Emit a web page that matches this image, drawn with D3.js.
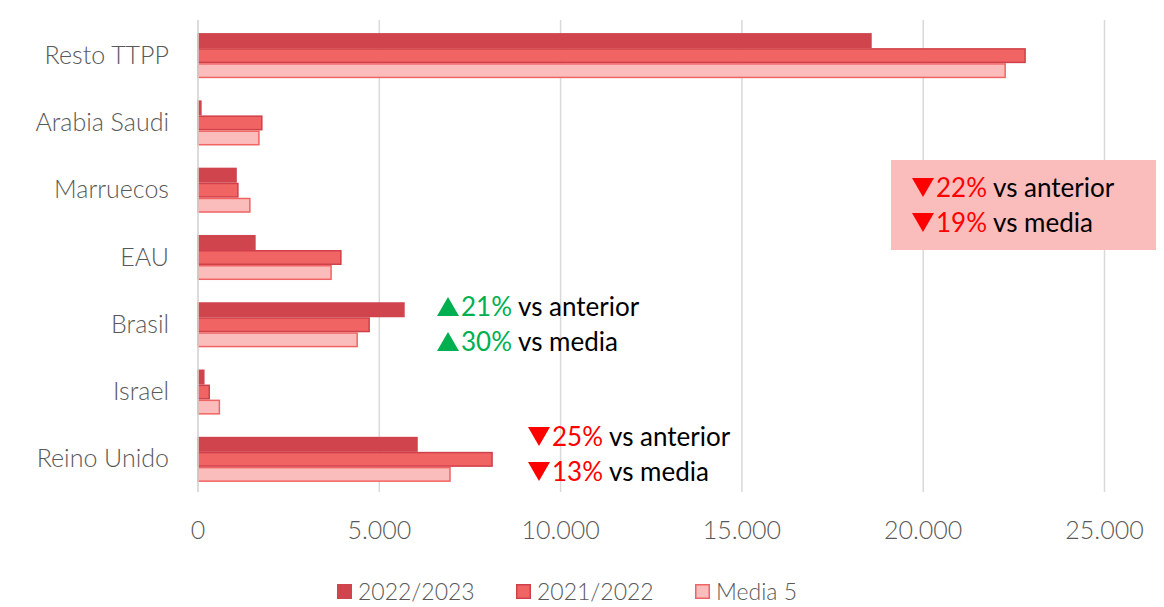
<!doctype html>
<html>
<head>
<meta charset="utf-8">
<title>Barras horizontales</title>
<style type="text/css">
body { margin: 0; background: #fff; }
svg { display: block; }
.lbl { font-family: Lato, "Open Sans", sans-serif; font-weight: 300; fill: #595959; }
.note { font-family: Lato, "Open Sans", sans-serif; font-size: 26px; }
</style>
<script src="https://cdnjs.cloudflare.com/ajax/libs/d3/7.8.5/d3.min.js"></script>
</head>
<body>
<script type="text/javascript">
var width = 1164;
var height = 607;

// datos
var categories = ["Resto TTPP", "Arabia Saudi", "Marruecos", "EAU", "Brasil", "Israel", "Reino Unido"];
var seriesNames = ["2022/2023", "2021/2022", "Media 5"];
var v2022 = [18560, 80, 1050, 1570, 5680, 160, 6040];
var v2021 = [22810, 1760, 1100, 3940, 4720, 310, 8110];
var vMedia = [22260, 1680, 1430, 3670, 4390, 590, 6950];
var ticks = [0, 5000, 10000, 15000, 20000, 25000];

// anotaciones: posicion, flecha, textos
var notes = [
	{ x: 437, y: 307, up: true,  pct: ["21%", "30%"] },
	{ x: 528, y: 437, up: false, pct: ["25%", "13%"] },
	{ x: 912, y: 188, up: false, pct: ["22%", "19%"], box: true }
];
var noteTexts = [" vs anterior", " vs media"];

var fills = ["#d0444e", "#f06464", "#fbbcbc"];
var strokes = ["#d0444e", "#d0404a", "#f06464"];

var values = [v2022, v2021, vMedia];

var svg = d3.select("body").append("svg")
	.attr("width", width)
	.attr("height", height);

var x = d3.scaleLinear().domain([0, 25000]).range([198, 1104.5]);
var y = d3.scaleBand().domain(categories).range([22, 493]).paddingInner(0.33).paddingOuter(0.165);
var ySub = d3.scaleBand().domain(seriesNames).range([0, y.bandwidth()]);

// rejilla vertical
svg.append("g").selectAll("line")
	.data(ticks)
	.enter().append("line")
	.attr("x1", function(d) { return x(d); })
	.attr("x2", function(d) { return x(d); })
	.attr("y1", 20)
	.attr("y2", 492)
	.style("stroke", "#d9d9d9")
	.style("stroke-width", 1.5);

// etiquetas del eje x
svg.append("g").selectAll("text")
	.data(ticks)
	.enter().append("text")
	.classed("lbl", true)
	.attr("x", function(d) { return x(d); })
	.attr("y", 539)
	.attr("text-anchor", "middle")
	.style("font-size", "25px")
	.text(function(d) { return d3.format(",")(d).replace(/,/g, "."); });

// etiquetas de categorias
svg.append("g").selectAll("text")
	.data(categories)
	.enter().append("text")
	.classed("lbl", true)
	.attr("x", 169)
	.attr("y", function(d) { return y(d) + y.bandwidth() / 2 + 8; })
	.attr("text-anchor", "end")
	.style("font-size", "25px")
	.text(function(d) { return d; });

// barras
seriesNames.forEach(function(s, si) {
	svg.append("g").selectAll("rect")
		.data(values[si])
		.enter().append("rect")
		.attr("x", x(0))
		.attr("y", function(d, i) { return y(categories[i]) + ySub(s) + 0.75; })
		.attr("width", function(d) { return x(d) - x(0); })
		.attr("height", ySub.bandwidth() - 1.5)
		.style("fill", fills[si])
		.style("stroke", strokes[si])
		.style("stroke-width", 1.5);
});

// eje en 0 por encima de las barras
svg.append("line")
	.attr("x1", x(0)).attr("x2", x(0))
	.attr("y1", 20).attr("y2", 492)
	.style("stroke", "#d9d9d9")
	.style("stroke-width", 1.5);

// anotaciones
notes.forEach(function(n) {
	if (n.box) {
		svg.append("rect")
			.attr("x", 891).attr("y", 160)
			.attr("width", 265).attr("height", 90)
			.style("fill", "#fbbcbc");
	}
	var col = n.up ? "#00b050" : "#ff0000";
	n.pct.forEach(function(p, k) {
		var cy = n.y + k * 35;
		var tri = n.up
			? [[n.x, cy + 9], [n.x + 22, cy + 9], [n.x + 11, cy - 10]]
			: [[n.x, cy - 10], [n.x + 22, cy - 10], [n.x + 11, cy + 9]];
		svg.append("path")
			.attr("d", d3.line()(tri) + "Z")
			.style("fill", col);
		var t = svg.append("text")
			.classed("note", true)
			.attr("x", n.x + 24)
			.attr("y", cy + 9);
		t.append("tspan").style("fill", col).text(p);
		t.append("tspan").style("fill", "#000").text(noteTexts[k]);
	});
});

// leyenda
var legX = [337, 516, 695];
var leg = svg.append("g").selectAll("g")
	.data(seriesNames)
	.enter().append("g")
	.attr("transform", function(d, i) { return "translate(" + legX[i] + ",584)"; });

leg.append("rect")
	.attr("x", 0.75).attr("y", 0.75)
	.attr("width", 13.5).attr("height", 13.5)
	.style("fill", function(d, i) { return fills[i]; })
	.style("stroke", function(d, i) { return strokes[i]; })
	.style("stroke-width", 1.5);

leg.append("text")
	.classed("lbl", true)
	.attr("x", 21)
	.attr("y", 16)
	.style("font-size", "23px")
	.text(function(d) { return d; });
</script>
</body>
</html>
